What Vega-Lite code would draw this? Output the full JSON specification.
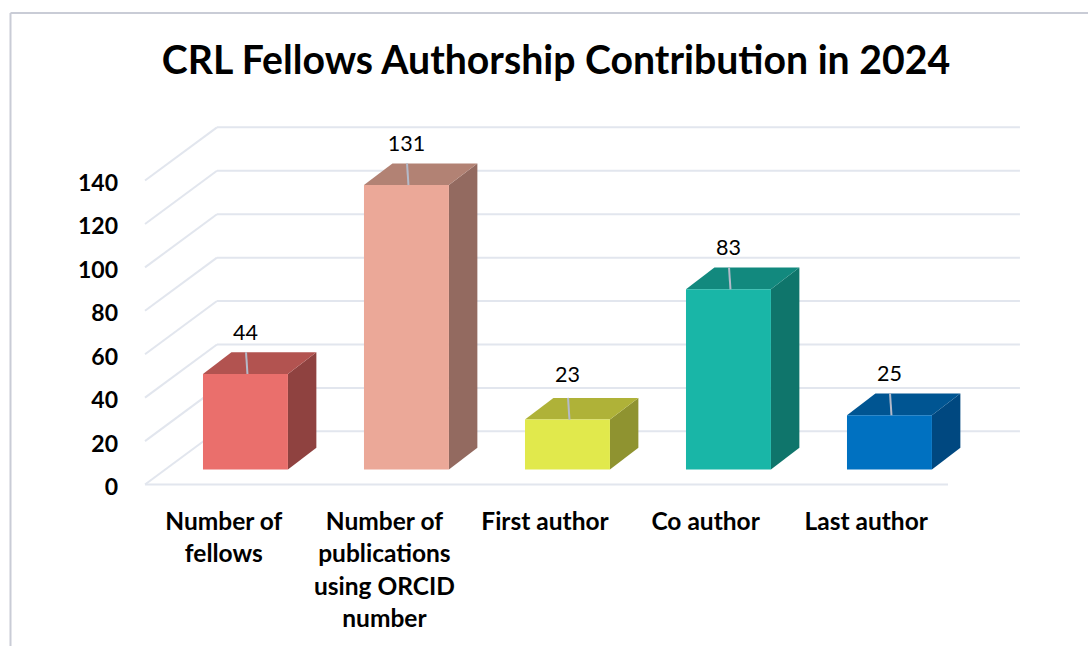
{
"$schema":"https://vega.github.io/schema/vega-lite/v6.json",
"width":1088,"height":646,"autosize":{"type":"none"},"padding":0,"background":"white",
"title":{"text":"CRL Fellows Authorship Contribution in 2024","font":"Lato","fontSize":39.2,"fontWeight":"bold","color":"#000000","anchor":"middle","frame":"group","offset":-82,"dx":12},
"config":{"view":{"stroke":null}},
"datasets":{"grid":[{"level":0},{"level":20},{"level":40},{"level":60},{"level":80},{"level":100},{"level":120},{"level":140}],
"frame":[{"edge":"frame"}]},
"data":{"values":[
{"category":"Number of fellows","value":44},
{"category":"Number of publications using ORCID number","value":131},
{"category":"First author","value":23},
{"category":"Co author","value":83},
{"category":"Last author","value":25}]},
"transform":[
{"window":[{"op":"row_number","as":"i"}]},
{"calculate":"(datum.i-1)*1.0025+0.361","as":"x0"},
{"calculate":"datum.x0+0.529","as":"x1"},
{"calculate":"datum.x0+0.265","as":"c"},
{"calculate":"6.9","as":"base"},
{"calculate":"6.9+datum.value","as":"top"},
{"calculate":"[0,1]","as":"t"},
{"flatten":["t"]},
{"calculate":"datum.x1+datum.t*0.177","as":"sx"},
{"calculate":"datum.base+datum.t*10","as":"sy"},
{"calculate":"datum.top+datum.t*10","as":"sy2"},
{"calculate":"datum.x0+datum.t*0.177","as":"tx"},
{"calculate":"datum.x1+datum.t*0.177","as":"tx2"}
],
"resolve":{"scale":{"color":"independent"}},
"layer":[
{"data":{"name":"grid"},
 "transform":[{"calculate":"0","as":"a"},{"calculate":"0.448","as":"b"},{"calculate":"datum.level+24.5","as":"backLevel"}],
 "mark":{"type":"rule","color":"#E2E6EE","strokeWidth":2},
 "encoding":{
  "x":{"field":"a","type":"quantitative","scale":{"domain":[-0.9029,5.8717],"nice":false,"zero":false},
   "axis":{"title":null,"orient":"bottom","offset":-136,"domain":false,"ticks":false,"grid":false,"values":[0.5,1.5,2.5,3.5,4.5],
    "labelExpr":"datum.value==0.5?['Number of','fellows']:datum.value==1.5?['Number of','publications','using ORCID','number']:datum.value==2.5?'First author':datum.value==3.5?'Co author':'Last author'",
    "labelFont":"Lato","labelFontSize":24.5,"labelFontWeight":"bold","labelColor":"#000000","labelLineHeight":32.5,"labelBaseline":"top","labelOverlap":false,"labelBound":false,"labelFlush":false,"labelLimit":400,"labelPadding":0,"labelOffset":-2}},
  "x2":{"field":"b"},
  "y":{"field":"level","type":"quantitative","scale":{"domain":[-74.39,223.17],"nice":false,"zero":false},
   "axis":{"title":null,"orient":"left","offset":-145,"domain":false,"ticks":false,"grid":false,"values":[0,20,40,60,80,100,120,140],
    "labelFont":"Lato","labelFontSize":23,"labelFontWeight":"bold","labelColor":"#000000","labelPadding":27.5,"labelOffset":3,"labelOverlap":false,"labelBound":false,"labelFlush":false}},
  "y2":{"field":"backLevel"}}},
{"data":{"name":"grid"},
 "transform":[{"calculate":"0.448","as":"b"},{"calculate":"5.448","as":"e"},{"calculate":"datum.level+24.5","as":"backLevel"}],
 "mark":{"type":"rule","color":"#E2E6EE","strokeWidth":2},
 "encoding":{
  "x":{"field":"b","type":"quantitative","scale":{"domain":[-0.9029,5.8717],"nice":false,"zero":false},"axis":{"title":null}},
  "x2":{"field":"e"},
  "y":{"field":"backLevel","type":"quantitative","scale":{"domain":[-74.39,223.17],"nice":false,"zero":false},"axis":{"title":null}}}},
{"data":{"name":"grid"},
 "transform":[{"filter":"datum.level==0"},{"calculate":"0","as":"a"},{"calculate":"5","as":"e"}],
 "mark":{"type":"rule","color":"#E2E6EE","strokeWidth":2},
 "encoding":{
  "x":{"field":"a","type":"quantitative","scale":{"domain":[-0.9029,5.8717],"nice":false,"zero":false},"axis":{"title":null}},
  "x2":{"field":"e"},
  "y":{"field":"level","type":"quantitative","scale":{"domain":[-74.39,223.17],"nice":false,"zero":false},"axis":{"title":null}}}},
{"mark":{"type":"area","orient":"vertical"},
 "encoding":{
  "x":{"field":"sx","type":"quantitative","scale":{"domain":[-0.9029,5.8717],"nice":false,"zero":false},"axis":{"title":null}},
  "y":{"field":"sy","type":"quantitative","stack":null,"scale":{"domain":[-74.39,223.17],"nice":false,"zero":false},"axis":{"title":null}},
  "y2":{"field":"sy2"},
  "color":{"field":"category","type":"nominal","legend":null,"sort":null,"scale":{"domain":["Number of fellows","Number of publications using ORCID number","First author","Co author","Last author"],"range":["#8F4240","#936A60","#8F9330","#0F756B","#004880"]}}}},
{"mark":{"type":"area","orient":"horizontal"},
 "encoding":{
  "y":{"field":"sy2","type":"quantitative","scale":{"domain":[-74.39,223.17],"nice":false,"zero":false},"axis":{"title":null}},
  "x":{"field":"tx","type":"quantitative","stack":null,"scale":{"domain":[-0.9029,5.8717],"nice":false,"zero":false},"axis":{"title":null}},
  "x2":{"field":"tx2"},
  "color":{"field":"category","type":"nominal","legend":null,"sort":null,"scale":{"domain":["Number of fellows","Number of publications using ORCID number","First author","Co author","Last author"],"range":["#B25350","#B28274","#AFB238","#12897E","#005592"]}}}},
{"transform":[{"filter":"datum.t==0"}],
 "mark":{"type":"rect"},
 "encoding":{
  "x":{"field":"x0","type":"quantitative","scale":{"domain":[-0.9029,5.8717],"nice":false,"zero":false},"axis":{"title":null}},
  "x2":{"field":"x1"},
  "y":{"field":"base","type":"quantitative","scale":{"domain":[-74.39,223.17],"nice":false,"zero":false},"axis":{"title":null}},
  "y2":{"field":"top"},
  "color":{"field":"category","type":"nominal","legend":null,"sort":null,"scale":{"domain":["Number of fellows","Number of publications using ORCID number","First author","Co author","Last author"],"range":["#EA6F6C","#EBA898","#E1E94C","#19B6A7","#0071C1"]}}}},
{"transform":[{"filter":"datum.t==0"},{"calculate":"datum.c+0.012","as":"lx"},{"calculate":"datum.c+0.003","as":"lx2"},{"calculate":"datum.top+10","as":"ly2"}],
 "mark":{"type":"rule","color":"#B4BAC9","strokeWidth":2},
 "encoding":{
  "x":{"field":"lx","type":"quantitative","scale":{"domain":[-0.9029,5.8717],"nice":false,"zero":false},"axis":{"title":null}},
  "x2":{"field":"lx2"},
  "y":{"field":"top","type":"quantitative","scale":{"domain":[-74.39,223.17],"nice":false,"zero":false},"axis":{"title":null}},
  "y2":{"field":"ly2"}}},
{"transform":[{"filter":"datum.t==0"},{"calculate":"datum.top+(datum.value==23?20:18.6)","as":"ly"}],
 "mark":{"type":"text","font":"Lato","fontSize":21.5,"color":"#000000","baseline":"middle","align":"center"},
 "encoding":{
  "x":{"field":"c","type":"quantitative","scale":{"domain":[-0.9029,5.8717],"nice":false,"zero":false},"axis":{"title":null}},
  "y":{"field":"ly","type":"quantitative","scale":{"domain":[-74.39,223.17],"nice":false,"zero":false},"axis":{"title":null}},
  "text":{"field":"value","type":"quantitative"}}},
{"data":{"name":"frame"},
 "mark":{"type":"rule","color":"#C9CCD6","strokeWidth":2},
 "encoding":{
  "x":{"datum":-0.8375,"type":"quantitative","scale":{"domain":[-0.9029,5.8717],"nice":false,"zero":false},"axis":{"title":null}},
  "x2":{"datum":5.8717},
  "y":{"datum":217.2,"type":"quantitative","scale":{"domain":[-74.39,223.17],"nice":false,"zero":false},"axis":{"title":null}}}},
{"data":{"name":"frame"},
 "mark":{"type":"rule","color":"#C9CCD6","strokeWidth":2},
 "encoding":{
  "x":{"datum":-0.8375,"type":"quantitative","scale":{"domain":[-0.9029,5.8717],"nice":false,"zero":false},"axis":{"title":null}},
  "y":{"datum":217.2,"type":"quantitative","scale":{"domain":[-74.39,223.17],"nice":false,"zero":false},"axis":{"title":null}},
  "y2":{"datum":-74.39}}}
]
}
